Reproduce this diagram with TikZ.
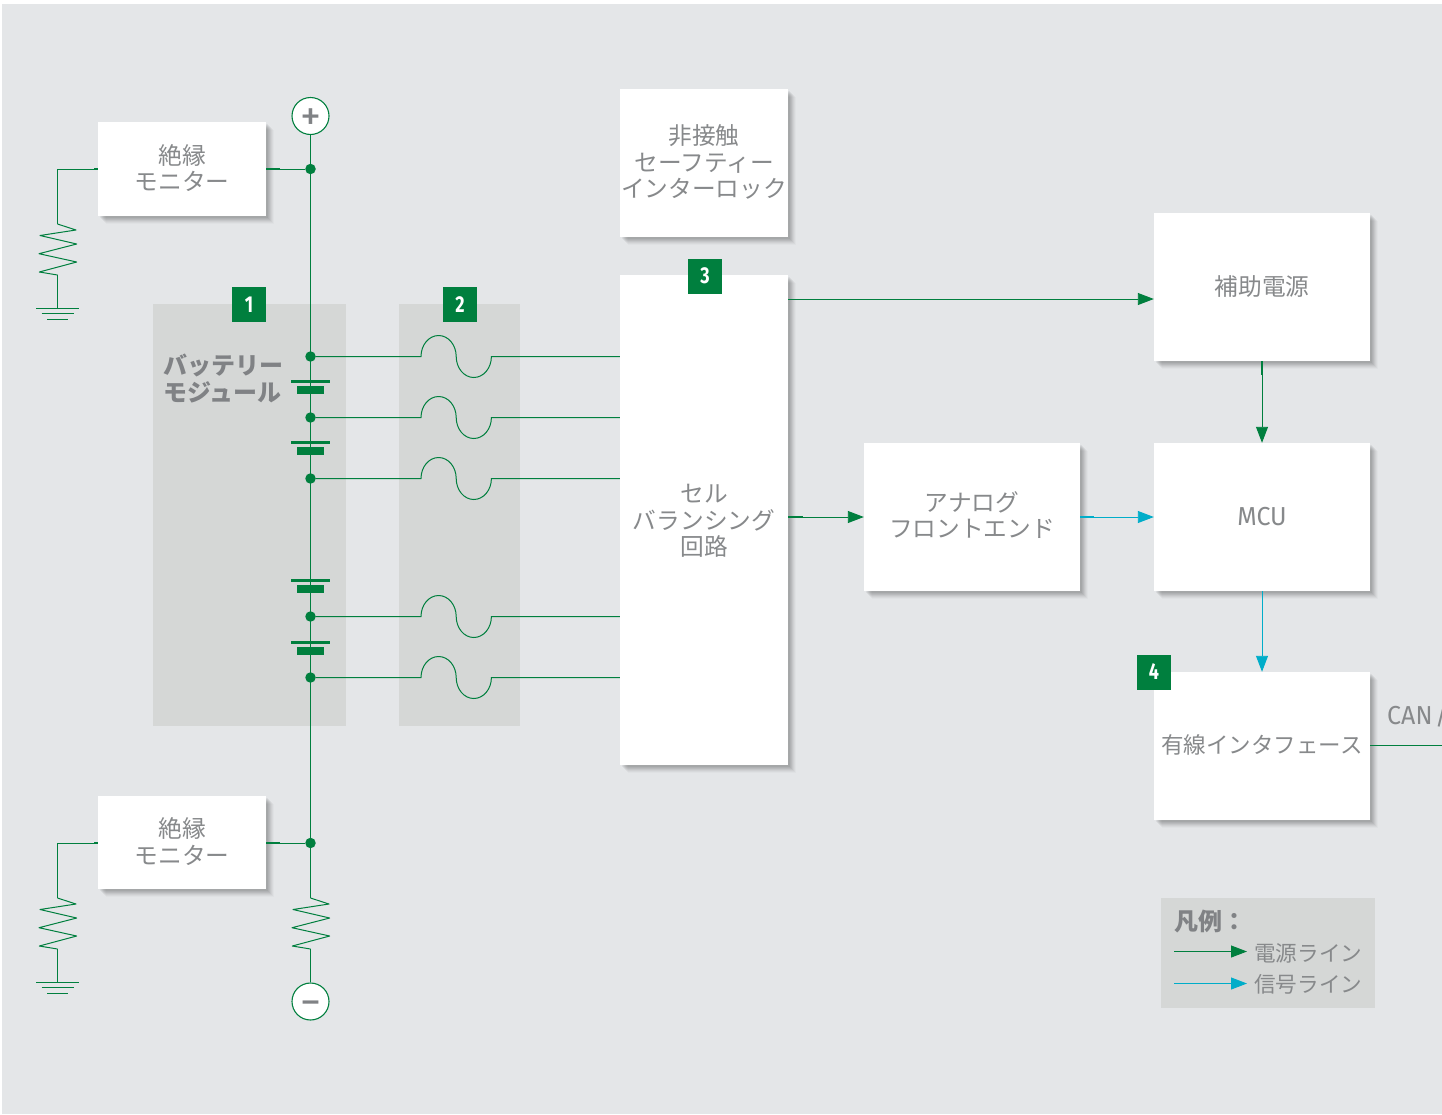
\documentclass[tikz,border=0pt]{standalone}
\usepackage{fontspec}
\usepackage{graphicx}
\usetikzlibrary{arrows.meta,shadows,calc}
\setmainfont{Noto Sans CJK JP}
\newfontfamily\latinfont{Fira Sans}
\definecolor{bgc}{HTML}{E4E6E8}
\definecolor{panelc}{HTML}{D5D7D6}
\definecolor{pwr}{HTML}{007F3E}
\definecolor{sig}{HTML}{00ADC9}
\definecolor{txt}{HTML}{87898B}
\definecolor{txtb}{HTML}{808285}
\tikzset{
  x=1pt,y=-1pt,
  wire/.style={draw=pwr,line width=1pt},
  sigwire/.style={draw=sig,line width=.9pt},
  stub/.style={draw=pwr,line width=1.8pt},
  sigstub/.style={draw=sig,line width=1.8pt},
  pwrarrow/.style={draw=pwr,line width=.9pt,-{Triangle[length=16pt,width=12pt,fill=pwr]}},
  sigarrow/.style={sigwire,-{Triangle[length=16pt,width=12pt,fill=sig]}},
  whitebox/.style={fill=white,inner sep=0pt,
    general shadow={fill=black,opacity=.05,shadow xshift=2pt,shadow yshift=-2pt},
    general shadow={fill=black,opacity=.05,shadow xshift=3pt,shadow yshift=-3pt},
    general shadow={fill=black,opacity=.05,shadow xshift=4pt,shadow yshift=-4pt},
    general shadow={fill=black,opacity=.05,shadow xshift=5pt,shadow yshift=-5pt},
    general shadow={fill=black,opacity=.04,shadow xshift=6pt,shadow yshift=-6pt},
    general shadow={fill=black,opacity=.03,shadow xshift=7pt,shadow yshift=-7pt},
    general shadow={fill=black,opacity=.02,shadow xshift=8pt,shadow yshift=-8pt}},
  boxtext/.style={inner sep=0pt,align=center,text=txt,font=\fontsize{23.7}{26.5}\selectfont},
  panel/.style={fill=panelc,inner sep=0pt},
  badge/.style={fill=pwr,text=white,inner sep=0pt,minimum width=34pt,minimum height=35pt,
    font=\latinfont\bfseries\fontsize{23}{23}\selectfont},
  dot/.style={circle,fill=pwr,inner sep=0pt,minimum size=10.5pt},
  term/.style={circle,draw=pwr,line width=1.1pt,fill=white,inner sep=0pt,minimum size=37pt,text=txtb,
    font=\latinfont\fontsize{42}{42}\selectfont},
  plate/.style={fill=pwr},
  boldlabel/.style={inner sep=0pt,anchor=west,text=txtb,align=left,
    font=\bfseries\fontsize{24}{27}\selectfont},
  legendlabel/.style={inner sep=0pt,anchor=west,text=txt,font=\fontsize{21.6}{26}\selectfont},
  resistor/.pic={\draw[wire,line join=round] (0,0)--(18.5,6)--(-17.5,11.5)--(19.2,20)--(-18.5,29.7)--(19.2,38)--(-18.2,48)--(0,51);},
  earth/.pic={\draw[wire] (-21.5,0)--(21.5,0);\draw[wire] (-16,5.5)--(16,5.5);\draw[wire] (-10.5,11)--(10.5,11);},
  cellsym/.pic={\fill[plate] (-19.5,-1.5) rectangle (19.5,1.5);\fill[plate] (-13.5,4.5) rectangle (13.5,12);},
}
\begin{document}
\begin{tikzpicture}
\useasboundingbox (0,0) rectangle (1442,1114);
\clip (0,0) rectangle (1442,1114);
\fill[white] (0,0) rectangle (1442,1114);
\fill[bgc] (2,4) rectangle (1442,1114);
% panels
\node[panel,minimum width=193pt,minimum height=422pt] (batpanel) at (249.5,515) {};
\node[panel,minimum width=121pt,minimum height=422pt] (fusepanel) at (459.5,515) {};
\node[panel,minimum width=214pt,minimum height=110pt] (legend) at (1268,953) {};
% boxes
\node[whitebox,minimum width=168pt,minimum height=94pt] (mon1) at (182,169) {};
\node[whitebox,minimum width=168pt,minimum height=93pt] (mon2) at (182,842.5) {};
\node[whitebox,minimum width=168pt,minimum height=148pt] (safety) at (704,163) {};
\node[whitebox,minimum width=168pt,minimum height=490pt] (cell) at (704,520) {};
\node[whitebox,minimum width=216pt,minimum height=148pt] (aux) at (1262,287) {};
\node[whitebox,minimum width=216pt,minimum height=148pt] (mcu) at (1262,517) {};
\node[whitebox,minimum width=216pt,minimum height=148pt] (afe) at (972,517) {};
\node[whitebox,minimum width=216pt,minimum height=148pt] (wired) at (1262,746) {};
% box texts
\node[boxtext] (mon1t) at (182,168) {絶縁\\モニター};
\node[boxtext] (mon2t) at (182,841.5) {絶縁\\モニター};
\node[boxtext] (safetyt) at (704,162) {非接触\\セーフティー\\インターロック};
\node[boxtext] (cellt) at (704,521) {セル\\バランシング\\回路};
\node[boxtext] (auxt) at (1262,287) {補助電源};
\node[boxtext] (mcut) at (1262,517) {{\latinfont\fontsize{26}{26}\selectfont\scalebox{.96}[1]{MCU}}};
\node[boxtext] (afet) at (972,515) {アナログ\\フロントエンド};
\node[boxtext,font=\fontsize{22.5}{26}\selectfont] (wiredt) at (1262,745) {有線インタフェース};
% badges
\node[badge] (b1) at (249,304.5) {\scalebox{.78}[1]{1}};
\node[badge] (b2) at (460,304.5) {\scalebox{.78}[1]{2}};
\node[badge] (b3) at (705,276) {\scalebox{.78}[1]{3}};
\node[badge] (b4) at (1154,672) {\scalebox{.78}[1]{4}};
% labels
\node[boldlabel] (batlabel) at (163,379) {バッテリー\\モジュール};
\node[inner sep=0pt,anchor=west,text=txt,font=\latinfont\fontsize{26}{26}\selectfont] (canlabel) at (1387,715) {\scalebox{.96}[1]{CAN\kern.1em/}};
% terminals and bus
\node[term] (plus) at (310.5,116) {\raisebox{-14.5pt}[0pt][0pt]{+}};
\node[term] (minus) at (310.5,1001.5) {\raisebox{-14.5pt}[0pt][0pt]{−}};
\coordinate (r3t) at (310.5,898);
\coordinate (r3b) at (310.5,949);
\draw[wire] (plus) -- (r3t);
\pic at (r3t) {resistor};
\draw[wire] (r3b) -- (minus);
% monitors
\node[dot] (d1) at (310.5,169) {};
\node[dot] (d2) at (310.5,843) {};
\coordinate (r1t) at (57.5,224);
\coordinate (r1b) at (57.5,275);
\coordinate (g1) at (57.5,308);
\coordinate (r2t) at (57.5,898);
\coordinate (r2b) at (57.5,949);
\coordinate (g2) at (57.5,982);
\draw[wire] (mon1.east) -- (d1);
\draw[wire] (mon1.west) -| (r1t);
\pic at (r1t) {resistor};
\draw[wire] (r1b) -- (g1);
\pic at (g1) {earth};
\draw[wire] (mon2.east |- d2) -- (d2);
\draw[wire] (mon2.west |- d2) -| (r2t);
\pic at (r2t) {resistor};
\draw[wire] (r2b) -- (g2);
\pic at (g2) {earth};
\draw[stub] (266,169) -- (280,169);
\draw[stub] (94,169) -- (98,169);
\draw[stub] (266,843) -- (280,843);
\draw[stub] (94,843) -- (98,843);
% battery cells
\pic at (310.5,381.5) {cellsym};
\pic at (310.5,442.5) {cellsym};
\pic at (310.5,580.5) {cellsym};
\pic at (310.5,642.5) {cellsym};
% taps with fuses
\foreach \n/\yy in {1/356.5,2/417.5,3/478.5,4/616.5,5/677.5}{
  \node[dot] (t\n) at (310.5,\yy) {};
  \coordinate (fa\n) at (421,\yy);
  \draw[wire] (t\n) -- (fa\n)
     arc[start angle=180,end angle=0,x radius=17.6pt,y radius=21pt]
     arc[start angle=180,end angle=360,x radius=17.6pt,y radius=21pt]
     -- (cell.west |- t\n);
}
% block connectors
\coordinate (ca) at (788,299);
\draw[pwrarrow] (ca) -- (ca -| aux.west);
\draw[pwrarrow] (aux.south) -- (mcu.north);
\draw[stub] (1262,361) -- (1262,375);
\draw[pwrarrow] (cell.east |- afe.west) -- (afe.west);
\draw[stub] (788,517) -- (803,517);
\draw[sigarrow] (afe.east) -- (mcu.west);
\draw[sigstub] (1080,517) -- (1094,517);
\draw[sigarrow] (mcu.south) -- (wired.north);
\coordinate (canend) at (1442,745.5);
\draw[pwrarrow,-] (wired.east |- canend) -- (canend);
% legend
\node[inner sep=0pt,anchor=west,text=txtb,font=\bfseries\fontsize{24}{26}\selectfont] (legtitle) at (1174,921) {凡例：};
\node[legendlabel] (leg1) at (1254,953) {電源ライン};
\node[legendlabel] (leg2) at (1254,984) {信号ライン};
\coordinate (la) at (1174,951.5);
\coordinate (lb) at (1174,983.5);
\coordinate (lae) at (1247,951.5);
\coordinate (lbe) at (1247,983.5);
\draw[pwrarrow] (la) -- (lae);
\draw[sigarrow] (lb) -- (lbe);
\end{tikzpicture}
\end{document}
